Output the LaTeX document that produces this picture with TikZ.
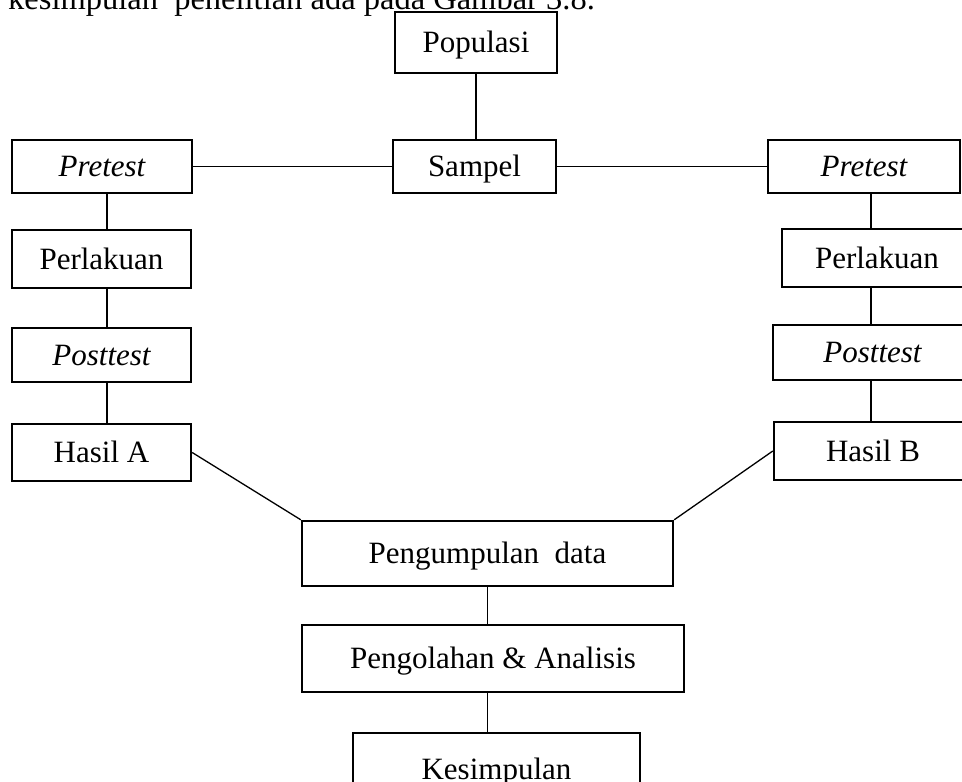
\documentclass[tikz,border=0pt]{standalone}
\usepackage{fontspec}
\setmainfont{Liberation Serif}
\usetikzlibrary{calc}
\tikzset{
  box/.style={draw, line width=2.4pt, inner sep=0pt, text height=25pt, text depth=5pt, font=\fontsize{31}{37}\selectfont},
  conn/.style={line width=1.3pt}
}
\newcommand{\bx}[6]{% name, x1,y1,x2,y2, text
  \node[box, minimum width={#4-#2}, minimum height={#5-#3}] (#1) at ({(#2+#4)/2},{(#3+#5)/2}) {#6};}
\begin{document}
\begin{tikzpicture}[x=1pt,y=-1pt]
\useasboundingbox (0,0) rectangle (962,782);
\clip (0,0) rectangle (962,782);
\node[anchor=base west, inner sep=0pt, font=\fontsize{32.5}{38}\selectfont] (intro) at (8,9) {kesimpulan\ \ penelitian ada pada Gambar 3.8.};
\bx{pop}{395}{12}{557}{73}{Populasi}
\bx{sam}{393}{140}{556}{193}{Sampel}
\bx{preL}{12}{140}{192}{193}{\itshape Pretest}
\bx{perL}{12}{230}{191}{288}{Perlakuan}
\bx{posL}{12}{328}{191}{382}{\itshape Posttest}
\bx{hasA}{12}{424}{191}{481}{Hasil A}
\bx{preR}{768}{140}{960}{193}{\itshape Pretest}
\bx{perR}{782}{229}{972}{287}{Perlakuan}
\bx{posR}{773}{325}{972}{380}{\itshape Posttest}
\bx{hasB}{774}{422}{972}{480}{Hasil B}
\bx{peng}{302}{521}{673}{586}{Pengumpulan\ \ data}
\bx{olah}{302}{625}{684}{692}{Pengolahan \& Analisis}
\bx{kes}{353}{733}{640}{805}{Kesimpulan}
\coordinate (lineL) at (107,0);
\coordinate (lineR) at (871,0);
\draw[conn] (pop.south) -- (pop.south |- sam.north);
\draw[conn] (preL.east) -- (sam.west);
\draw[conn] (sam.east) -- (preR.west);
\draw[conn] (preL.south -| lineL) -- (perL.north -| lineL);
\draw[conn] (perL.south -| lineL) -- (posL.north -| lineL);
\draw[conn] (posL.south -| lineL) -- (hasA.north -| lineL);
\draw[conn] (preR.south -| lineR) -- (perR.north -| lineR);
\draw[conn] (perR.south -| lineR) -- (posR.north -| lineR);
\draw[conn] (posR.south -| lineR) -- (hasB.north -| lineR);
\draw[conn] (hasA.east) -- (peng.north west);
\draw[conn] (hasB.west) -- (peng.north east);
\draw[conn] (peng.south) -- (peng.south |- olah.north);
\draw[conn] (olah.south -| peng.south) -- (peng.south |- kes.north);
\end{tikzpicture}
\end{document}
